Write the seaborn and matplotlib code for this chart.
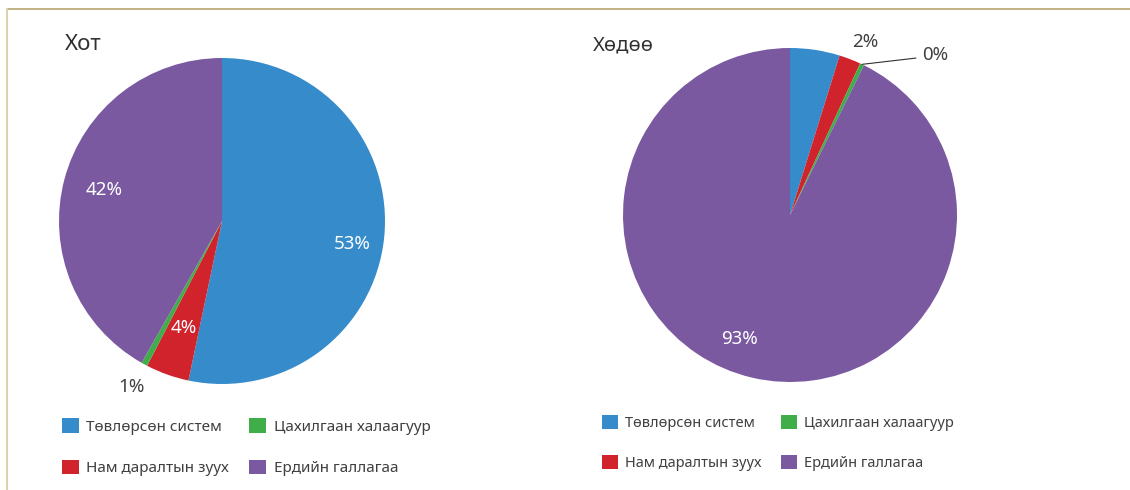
import matplotlib
matplotlib.use("Agg")
import matplotlib.pyplot as plt
import matplotlib.patches as mpatches
from matplotlib.lines import Line2D
import numpy as np
import seaborn as sns

sns.set_theme(style="white")
plt.rcParams['font.family'] = ['Noto Sans', 'DejaVu Sans']

# data
categories = ["Төвлөрсөн систем", "Нам даралтын зуух", "Цахилгаан халаагуур", "Ердийн галлагаа"]
colors = ["#368bcb", "#d0232b", "#3fae49", "#7a59a1"]

city_title = "Хот"
city_values = [53.3, 4.3, 0.6, 41.8]
city_labels = ["53%", "4%", "1%", "42%"]

rural_title = "Хөдөө"
rural_values = [4.8, 2.1, 0.4, 92.7]
rural_labels = ["", "2%", "0%", "93%"]

W, H = 1130, 490
fig = plt.figure(figsize=(W / 100, H / 100), dpi=100)


def px_axes(cx, cy, r):
    return fig.add_axes([(cx - r) / W, (H - cy - r) / H, 2 * r / W, 2 * r / H])


def draw_pie(ax, values, labels, label_r, label_c, shift):
    wedges, _ = ax.pie(values, colors=colors, startangle=90, counterclock=False,
                       wedgeprops=dict(linewidth=0))
    ax.set_xlim(-1, 1)
    ax.set_ylim(-1, 1)
    ax.set_aspect("equal")
    for w, lab, rr, cc, sh in zip(wedges, labels, label_r, label_c, shift):
        if not lab:
            continue
        ang = np.deg2rad((w.theta1 + w.theta2) / 2 + sh)
        ax.text(rr * np.cos(ang), rr * np.sin(ang), lab, ha="center", va="center",
                fontsize=13.5, color=cc)
    return wedges


# left pie - city
ax1 = px_axes(222, 221, 163)
draw_pie(ax1, city_values, city_labels,
         [0.81, 0.70, 1.16, 0.75], ["white", "white", "#404040", "white"],
         [-4, 0, 0, 0])
fig.text(65 / W, 1 - 45 / H, city_title, fontsize=16, color="#303030", va="center")

# right pie - rural
ax2 = px_axes(790, 215, 167)
w2 = draw_pie(ax2, rural_values, ["", "2%", "", "93%"],
              [0, 1.13, 0, 0.80], ["white", "#404040", "#404040", "white"],
              [0, -2.5, 0, -9])
# 0% label with a leader line
g = w2[2]
ang = np.deg2rad((g.theta1 + g.theta2) / 2)
ax2.annotate(rural_labels[2], xy=(np.cos(ang), np.sin(ang)), xytext=(0.79, 0.96),
             fontsize=13.5, color="#404040", va="center",
             arrowprops=dict(arrowstyle="-", color="#303030", lw=0.8,
                             shrinkA=2, shrinkB=0, relpos=(0, 0.35)))
fig.text(593 / W, 1 - 45 / H, rural_title, fontsize=14.5, color="#303030", va="center")

# legends
handles = [mpatches.Patch(facecolor=c, edgecolor="none") for c in colors]
for ax, x0, y0, fs in [(ax1, 62, 418, 11), (ax2, 602, 415, 10.5)]:
    ax.legend(handles, categories, ncol=2, frameon=False, fontsize=fs,
              loc="upper left", bbox_to_anchor=(x0 / W, 1 - y0 / H),
              bbox_transform=fig.transFigure, handlelength=1.1, handleheight=1.1,
              handletextpad=0.5, columnspacing=1.3, labelspacing=1.65,
              borderaxespad=0, borderpad=0, labelcolor="#404040")

# frame lines at top and left
fig.add_artist(Line2D([7 / W, 1], [1 - 9 / H, 1 - 9 / H], transform=fig.transFigure,
                      color="#b4a470", lw=1.2))
fig.add_artist(Line2D([7 / W, 7 / W], [0, 1 - 9 / H], transform=fig.transFigure,
                      color="#ded2ad", lw=1.5))

fig.savefig("out.png", dpi=100, facecolor="white")
